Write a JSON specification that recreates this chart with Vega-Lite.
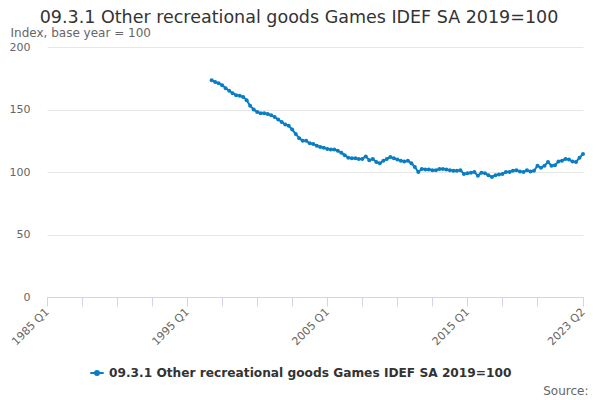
{
  "$schema": "https://vega.github.io/schema/vega-lite/v6.json",
  "width": 536,
  "height": 250,
  "autosize": {"type": "none"},
  "padding": {"left": 47, "top": 47, "right": 17, "bottom": 103},
  "background": "white",
  "title": {
    "text": "09.3.1 Other recreational goods Games IDEF SA 2019=100",
    "font": "DejaVu Sans",
    "fontSize": 17.5,
    "fontWeight": "normal",
    "color": "#333333",
    "anchor": "middle",
    "dx": -16,
    "dy": 4,
    "offset": 4
  },
  "config": {
    "view": {"stroke": null},
    "font": "DejaVu Sans"
  },
  "data": {
    "values": [
      {"date": "1996-10-01", "index": 173.5},
      {"date": "1997-01-01", "index": 172},
      {"date": "1997-04-01", "index": 171},
      {"date": "1997-07-01", "index": 169.5},
      {"date": "1997-10-01", "index": 167},
      {"date": "1998-01-01", "index": 165},
      {"date": "1998-04-01", "index": 163},
      {"date": "1998-07-01", "index": 161.5},
      {"date": "1998-10-01", "index": 161},
      {"date": "1999-01-01", "index": 160},
      {"date": "1999-04-01", "index": 157.5},
      {"date": "1999-07-01", "index": 153},
      {"date": "1999-10-01", "index": 150},
      {"date": "2000-01-01", "index": 148},
      {"date": "2000-04-01", "index": 147},
      {"date": "2000-07-01", "index": 147},
      {"date": "2000-10-01", "index": 146.5},
      {"date": "2001-01-01", "index": 145.5},
      {"date": "2001-04-01", "index": 144},
      {"date": "2001-07-01", "index": 142},
      {"date": "2001-10-01", "index": 140},
      {"date": "2002-01-01", "index": 138},
      {"date": "2002-04-01", "index": 137},
      {"date": "2002-07-01", "index": 134},
      {"date": "2002-10-01", "index": 130.5},
      {"date": "2003-01-01", "index": 127},
      {"date": "2003-04-01", "index": 125},
      {"date": "2003-07-01", "index": 125},
      {"date": "2003-10-01", "index": 123},
      {"date": "2004-01-01", "index": 122.5},
      {"date": "2004-04-01", "index": 121},
      {"date": "2004-07-01", "index": 120},
      {"date": "2004-10-01", "index": 119.5},
      {"date": "2005-01-01", "index": 118.5},
      {"date": "2005-04-01", "index": 118},
      {"date": "2005-07-01", "index": 118},
      {"date": "2005-10-01", "index": 117},
      {"date": "2006-01-01", "index": 115.5},
      {"date": "2006-04-01", "index": 113.5},
      {"date": "2006-07-01", "index": 111.5},
      {"date": "2006-10-01", "index": 111},
      {"date": "2007-01-01", "index": 111},
      {"date": "2007-04-01", "index": 110.5},
      {"date": "2007-07-01", "index": 110.5},
      {"date": "2007-10-01", "index": 112.5},
      {"date": "2008-01-01", "index": 109.5},
      {"date": "2008-04-01", "index": 110.5},
      {"date": "2008-07-01", "index": 108},
      {"date": "2008-10-01", "index": 107},
      {"date": "2009-01-01", "index": 109},
      {"date": "2009-04-01", "index": 110.5},
      {"date": "2009-07-01", "index": 112},
      {"date": "2009-10-01", "index": 111},
      {"date": "2010-01-01", "index": 110},
      {"date": "2010-04-01", "index": 109},
      {"date": "2010-07-01", "index": 108.5},
      {"date": "2010-10-01", "index": 109},
      {"date": "2011-01-01", "index": 107},
      {"date": "2011-04-01", "index": 104},
      {"date": "2011-07-01", "index": 100},
      {"date": "2011-10-01", "index": 102.5},
      {"date": "2012-01-01", "index": 102},
      {"date": "2012-04-01", "index": 102},
      {"date": "2012-07-01", "index": 101.5},
      {"date": "2012-10-01", "index": 101.5},
      {"date": "2013-01-01", "index": 102.5},
      {"date": "2013-04-01", "index": 102.5},
      {"date": "2013-07-01", "index": 102},
      {"date": "2013-10-01", "index": 101.5},
      {"date": "2014-01-01", "index": 101},
      {"date": "2014-04-01", "index": 101},
      {"date": "2014-07-01", "index": 101.5},
      {"date": "2014-10-01", "index": 98.5},
      {"date": "2015-01-01", "index": 99},
      {"date": "2015-04-01", "index": 99.5},
      {"date": "2015-07-01", "index": 100},
      {"date": "2015-10-01", "index": 97},
      {"date": "2016-01-01", "index": 99.5},
      {"date": "2016-04-01", "index": 99},
      {"date": "2016-07-01", "index": 97.5},
      {"date": "2016-10-01", "index": 96},
      {"date": "2017-01-01", "index": 97.5},
      {"date": "2017-04-01", "index": 98},
      {"date": "2017-07-01", "index": 98.5},
      {"date": "2017-10-01", "index": 100},
      {"date": "2018-01-01", "index": 100},
      {"date": "2018-04-01", "index": 101},
      {"date": "2018-07-01", "index": 101.5},
      {"date": "2018-10-01", "index": 100.5},
      {"date": "2019-01-01", "index": 100},
      {"date": "2019-04-01", "index": 101.5},
      {"date": "2019-07-01", "index": 100.5},
      {"date": "2019-10-01", "index": 101},
      {"date": "2020-01-01", "index": 105},
      {"date": "2020-04-01", "index": 103.5},
      {"date": "2020-07-01", "index": 105},
      {"date": "2020-10-01", "index": 108},
      {"date": "2021-01-01", "index": 105},
      {"date": "2021-04-01", "index": 105.5},
      {"date": "2021-07-01", "index": 108.5},
      {"date": "2021-10-01", "index": 109},
      {"date": "2022-01-01", "index": 110.5},
      {"date": "2022-04-01", "index": 110},
      {"date": "2022-07-01", "index": 108.5},
      {"date": "2022-10-01", "index": 108},
      {"date": "2023-01-01", "index": 111.5},
      {"date": "2023-04-01", "index": 114.5}
    ]
  },
  "mark": {
    "type": "line",
    "strokeWidth": 2,
    "point": {"filled": true, "size": 16}
  },
  "encoding": {
    "x": {
      "field": "date",
      "type": "temporal",
      "scale": {
        "type": "utc",
        "domain": [
          {"year": 1985, "month": 1, "date": 1, "utc": true},
          {"year": 2023, "month": 4, "date": 1, "utc": true}
        ]
      },
      "axis": {
        "values": [
          {"year": 1985, "month": 1, "date": 1, "utc": true},
          {"year": 1987, "month": 7, "date": 1, "utc": true},
          {"year": 1990, "month": 1, "date": 1, "utc": true},
          {"year": 1992, "month": 7, "date": 1, "utc": true},
          {"year": 1995, "month": 1, "date": 1, "utc": true},
          {"year": 1997, "month": 7, "date": 1, "utc": true},
          {"year": 2000, "month": 1, "date": 1, "utc": true},
          {"year": 2002, "month": 7, "date": 1, "utc": true},
          {"year": 2005, "month": 1, "date": 1, "utc": true},
          {"year": 2007, "month": 7, "date": 1, "utc": true},
          {"year": 2010, "month": 1, "date": 1, "utc": true},
          {"year": 2012, "month": 7, "date": 1, "utc": true},
          {"year": 2015, "month": 1, "date": 1, "utc": true},
          {"year": 2017, "month": 7, "date": 1, "utc": true},
          {"year": 2020, "month": 1, "date": 1, "utc": true},
          {"year": 2023, "month": 4, "date": 1, "utc": true}
        ],
        "labelExpr": "(utcyear(datum.value) % 10 == 5 && utcmonth(datum.value) == 0) || utcyear(datum.value) == 2023 ? utcyear(datum.value) + ' Q' + (floor(utcmonth(datum.value) / 3) + 1) : ''",
        "labelAngle": -45,
        "labelAlign": "right",
        "labelBaseline": "middle",
        "labelPadding": 4,
        "labelFontSize": 11,
        "labelColor": "#666666",
        "labelFont": "DejaVu Sans",
        "labelOverlap": false,
        "labelBound": false,
        "labelFlush": false,
        "grid": false,
        "domainColor": "#ccd6eb",
        "tickColor": "#ccd6eb",
        "tickSize": 9,
        "title": "Source:",
        "titleFont": "DejaVu Sans",
        "titleFontSize": 12,
        "titleFontWeight": "normal",
        "titleColor": "#666666",
        "titleAlign": "right",
        "titleBaseline": "alphabetic",
        "titleAnchor": null,
        "titleX": 541,
        "titleY": 97
      }
    },
    "y": {
      "field": "index",
      "type": "quantitative",
      "scale": {"domain": [0, 200]},
      "axis": {
        "values": [0, 50, 100, 150, 200],
        "domain": false,
        "ticks": false,
        "gridColor": "#e6e6e6",
        "labelPadding": 17,
        "labelFontSize": 11,
        "labelColor": "#666666",
        "labelFont": "DejaVu Sans",
        "title": "Index, base year = 100",
        "titleFont": "DejaVu Sans",
        "titleFontSize": 12,
        "titleFontWeight": "normal",
        "titleColor": "#666666",
        "titleAngle": 0,
        "titleAlign": "left",
        "titleBaseline": "alphabetic",
        "titleAnchor": null,
        "titleX": -37,
        "titleY": -11
      }
    },
    "color": {
      "datum": "09.3.1 Other recreational goods Games IDEF SA 2019=100",
      "type": "nominal",
      "scale": {"range": ["#0a7ec4"]},
      "legend": {
        "title": null,
        "orient": "none",
        "legendX": 42,
        "legendY": 318,
        "symbolType": "M-1,0L1,0M-0.3,0A0.3,0.3 0 1,0 0.3,0A0.3,0.3 0 1,0 -0.3,0",
        "symbolSize": 180,
        "symbolStrokeWidth": 2,
        "labelFont": "DejaVu Sans",
        "labelFontSize": 12.2,
        "labelFontWeight": "bold",
        "labelColor": "#333333",
        "labelLimit": 600
      }
    }
  }
}
